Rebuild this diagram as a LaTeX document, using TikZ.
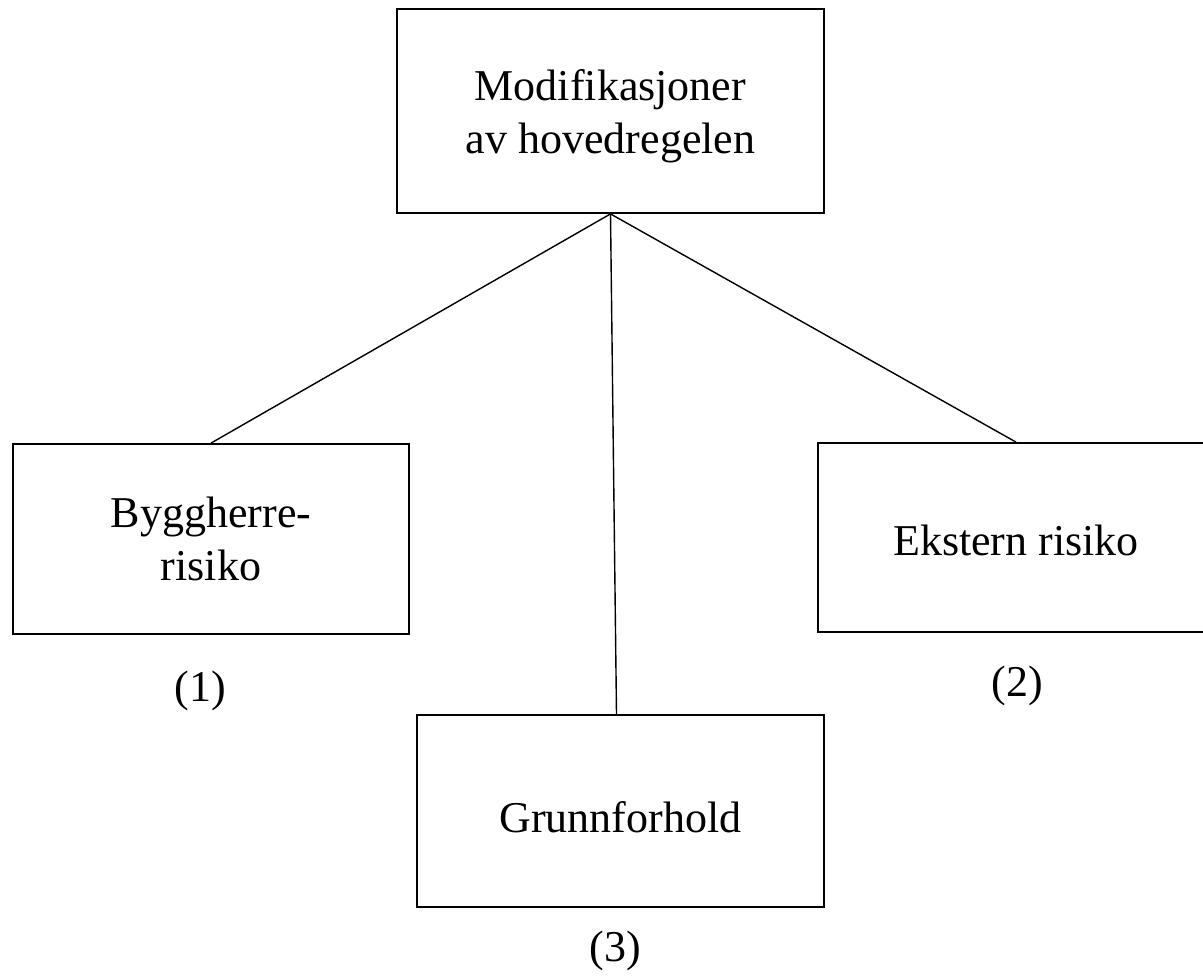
\documentclass[tikz,border=0pt]{standalone}
\usepackage{fontspec}
\setmainfont{Liberation Serif}
\begin{document}
\begin{tikzpicture}[x=1pt,y=-1pt,
  box/.style={draw,line width=1.8pt,inner sep=0pt},
  txt/.style={inner sep=0pt,align=center,font=\fontsize{44}{53}\selectfont},
  lbl/.style={inner sep=0pt,font=\fontsize{44}{53}\selectfont},
  link/.style={line width=1.4pt}]
\useasboundingbox (0,0) rectangle (1203,980);
\begin{scope}
\clip (0,0) rectangle (1203,980);
\node[box,minimum width=427pt,minimum height=204pt] (top) at (610.5,111) {};
\node[box,minimum width=396pt,minimum height=190pt] (left) at (211,539) {};
\node[box,minimum width=396pt,minimum height=189pt] (right) at (1016,537.5) {};
\node[box,minimum width=407pt,minimum height=192pt] (bottom) at (620.5,811) {};
\end{scope}
\node[txt] (toptext) at ([yshift=-5pt]top.center) {Modifikasjoner\\av hovedregelen};
\node[txt] (lefttext) at (left.center) {Byggherre-\\risiko};
\node[txt] (righttext) at ([yshift=-3pt]right.center) {Ekstern risiko};
\node[txt] (bottomtext) at ([yshift=-6pt]bottom.center) {Grunnforhold};
\node[lbl] (l1) at (200,691) {(1)};
\node[lbl] (l2) at (1017,686) {(2)};
\node[lbl] (l3) at (615,951) {(3)};
\draw[link] (top.south) -- (left.north);
\draw[link] (top.south) -- ([xshift=-4pt]bottom.north);
\draw[link] (top.south) -- (right.north);
\end{tikzpicture}
\end{document}
